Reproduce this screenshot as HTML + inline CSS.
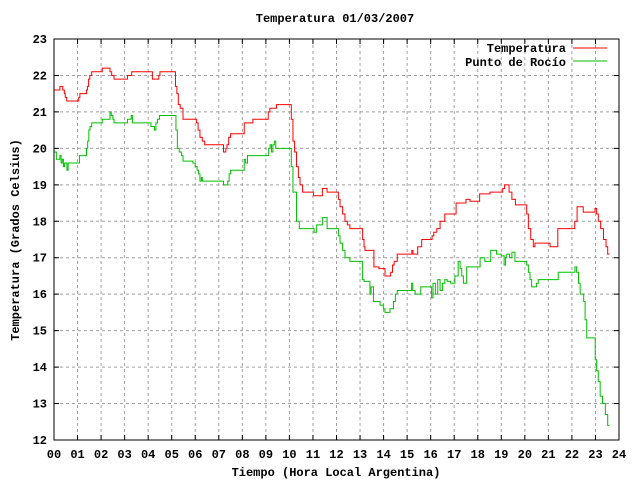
<!DOCTYPE html>
<html><head><meta charset="utf-8"><style>
body{margin:0;background:#fff}
svg text{font-family:"Liberation Mono","DejaVu Sans Mono",monospace;font-weight:bold;font-size:12px;fill:#000}
</style></head><body>
<svg id="chart" width="640" height="480" viewBox="0 0 640 480" xmlns="http://www.w3.org/2000/svg">
<rect width="640" height="480" fill="#fff"/>
<g id="grid"></g>
<g id="ticks"></g>
<g id="series"></g>
<rect x="54" y="39" width="565" height="401" fill="none" stroke="#000" stroke-width="1"/>
<text x="335" y="22" text-anchor="middle">Temperatura 01/03/2007</text>
<text x="336" y="476" text-anchor="middle">Tiempo (Hora Local Argentina)</text>
<text x="19" y="240" text-anchor="middle" transform="rotate(-90 19 240)">Temperatura (Grados Celsius)</text>
<g>
<text x="566" y="52" text-anchor="end">Temperatura</text>
<line x1="573" y1="48" x2="607" y2="48" stroke="#ff0000" stroke-width="1"/>
<text x="566" y="66" text-anchor="end">Punto de Rocío</text>
<line x1="573" y1="61" x2="607" y2="61" stroke="#00c000" stroke-width="1"/>
</g>
</svg>
<script>
const xTicks=["00","01","02","03","04","05","06","07","08","09","10","11","12","13","14","15","16","17","18","19","20","21","22","23","24"];
const yTicks=[12,13,14,15,16,17,18,19,20,21,22,23];
const tempHours=[0,0.25,0.37,0.44,0.48,0.54,1.05,1.1,1.38,1.42,1.47,1.52,1.6,2.05,2.38,2.45,2.55,3.12,3.3,4.18,4.45,4.5,5.16,5.22,5.28,5.36,5.48,6.05,6.12,6.2,6.3,6.4,6.5,7.2,7.3,7.35,7.42,7.5,7.6,8.08,8.45,9.1,9.17,9.45,10.08,10.15,10.22,10.3,10.38,10.45,10.56,11.02,11.4,11.6,12.08,12.15,12.26,12.36,12.46,12.57,13.11,13.17,13.21,13.59,13.8,14.06,14.3,14.38,14.45,14.58,15.2,15.25,15.45,15.62,16.06,16.13,16.26,16.4,16.6,17.08,17.5,17.67,18.08,18.52,19.06,19.14,19.33,19.45,19.6,20.08,20.15,20.25,20.36,20.43,21.07,21.4,22.12,22.22,22.48,22.98,23.05,23.12,23.22,23.34,23.45,23.52,23.59];
const tempValues=[21.6,21.7,21.6,21.5,21.4,21.3,21.4,21.5,21.6,21.7,21.9,22.0,22.1,22.2,22.1,22.0,21.9,22.0,22.1,21.9,22.0,22.1,21.7,21.5,21.2,21.1,20.8,20.7,20.5,20.3,20.2,20.1,20.1,19.9,20.0,20.1,20.3,20.4,20.4,20.7,20.8,21.0,21.1,21.2,20.8,20.2,19.9,19.5,19.2,19.0,18.8,18.7,18.9,18.8,18.6,18.4,18.2,18.0,17.9,17.8,17.5,17.3,17.2,16.75,16.7,16.5,16.6,16.8,16.9,17.1,17.2,17.1,17.3,17.5,17.6,17.7,17.8,18.0,18.2,18.5,18.6,18.55,18.75,18.8,18.9,19.0,18.8,18.6,18.45,18.2,17.8,17.5,17.3,17.4,17.3,17.8,18.0,18.4,18.25,18.35,18.2,18.0,17.8,17.5,17.3,17.1,17.1];
const dewHours=[0,0.1,0.25,0.3,0.35,0.4,0.45,0.55,0.6,1.08,1.38,1.43,1.48,1.53,1.6,2.05,2.38,2.43,2.5,2.55,3.12,3.28,3.33,4.12,4.27,4.33,4.4,4.48,5.18,5.24,5.32,5.42,5.48,5.9,6.0,6.08,6.14,6.2,6.26,6.3,7.2,7.38,7.44,7.5,8.08,8.14,8.22,9.12,9.18,9.24,9.3,9.36,9.42,10.08,10.15,10.3,10.42,11.05,11.16,11.4,11.6,12.08,12.15,12.26,12.36,12.57,13.1,13.17,13.42,13.47,13.57,13.85,13.99,14.06,14.27,14.42,14.5,14.58,15.19,15.24,15.34,15.58,16.04,16.1,16.2,16.3,16.4,16.5,16.6,16.7,16.85,17.03,17.17,17.25,17.32,17.39,17.53,18.1,18.3,18.55,18.8,19.0,19.12,19.18,19.23,19.35,19.45,19.58,20.08,20.15,20.22,20.29,20.5,20.57,21.42,22.13,22.2,22.28,22.35,22.5,22.56,22.63,22.99,23.05,23.12,23.2,23.3,23.42,23.52,23.59];
const dewValues=[19.9,19.7,19.8,19.6,19.7,19.5,19.6,19.4,19.6,19.8,20.0,20.2,20.5,20.6,20.7,20.8,21.0,20.9,20.8,20.7,20.8,20.9,20.7,20.6,20.5,20.7,20.8,20.9,20.5,20.0,19.9,19.8,19.65,19.6,19.5,19.4,19.3,19.1,19.2,19.1,19.0,19.1,19.3,19.4,19.7,19.6,19.8,20.0,20.1,19.9,20.1,20.2,20.0,19.5,18.8,18.0,17.8,17.7,17.9,18.1,17.8,17.6,17.4,17.2,17.0,16.9,16.4,16.35,16.0,16.2,15.8,15.7,15.6,15.5,15.6,15.8,16.0,16.1,16.3,16.1,16.0,16.2,15.9,16.3,16.0,16.4,16.1,16.3,16.4,16.35,16.3,16.5,16.9,16.7,16.5,16.3,16.75,17.0,16.9,17.2,17.1,17.05,16.8,17.0,17.1,17.0,17.15,16.9,16.8,16.6,16.4,16.2,16.3,16.4,16.6,16.75,16.6,16.3,16.0,15.8,15.3,14.8,14.2,13.9,13.6,13.2,13.0,12.7,12.4,12.4];
const X0=54,X1=619,Y0=440,Y1=39,YMIN=12,YMAX=23;
const xs=h=>X0+(h/24)*(X1-X0);
const ys=v=>Y0-(v-YMIN)/(YMAX-YMIN)*(Y0-Y1);
const NS="http://www.w3.org/2000/svg";
const grid=document.getElementById('grid'),ticks=document.getElementById('ticks'),series=document.getElementById('series');
function mk(tag,attrs,parent){const e=document.createElementNS(NS,tag);for(const k in attrs)e.setAttribute(k,attrs[k]);parent.appendChild(e);return e;}
xTicks.forEach((t,i)=>{
  const x=xs(i);
  if(i>0&&i<24){const g=mk('line',{x1:x,y1:Y1,x2:x,y2:Y0,stroke:'#a0a0a0','stroke-dasharray':'3,3'},grid);
  
  }
  const tk=mk('path',{d:`M${x},${Y0}v-5M${x},${Y1}v5`,stroke:'#000'},ticks);
  
  
  const tx=mk('text',{x:x,y:458,'text-anchor':'middle'},ticks);tx.textContent=t;
  
  
});
yTicks.forEach(v=>{
  const y=ys(v);
  if(v>YMIN&&v<YMAX){const g=mk('line',{x1:X0,y1:y,x2:X1,y2:y,stroke:'#a0a0a0','stroke-dasharray':'3,3'},grid);
  
  }
  const tk=mk('path',{d:`M${X0},${y}h5M${X1},${y}h-5`,stroke:'#000'},ticks);
  
  
  const tx=mk('text',{x:47,y:y+4,'text-anchor':'end'},ticks);tx.textContent=v;
  
  
});
function stepPath(hs,vs){let d=`M${xs(hs[0])},${ys(vs[0])}`;for(let i=1;i<hs.length;i++){d+=`H${xs(hs[i])}V${ys(vs[i])}`;}return d;}
const dew=mk('path',{d:stepPath(dewHours,dewValues),fill:'none',stroke:'#00c000','stroke-width':1},series);


const temp=mk('path',{d:stepPath(tempHours,tempValues),fill:'none',stroke:'#ff0000','stroke-width':1},series);


</script>
</body></html>
